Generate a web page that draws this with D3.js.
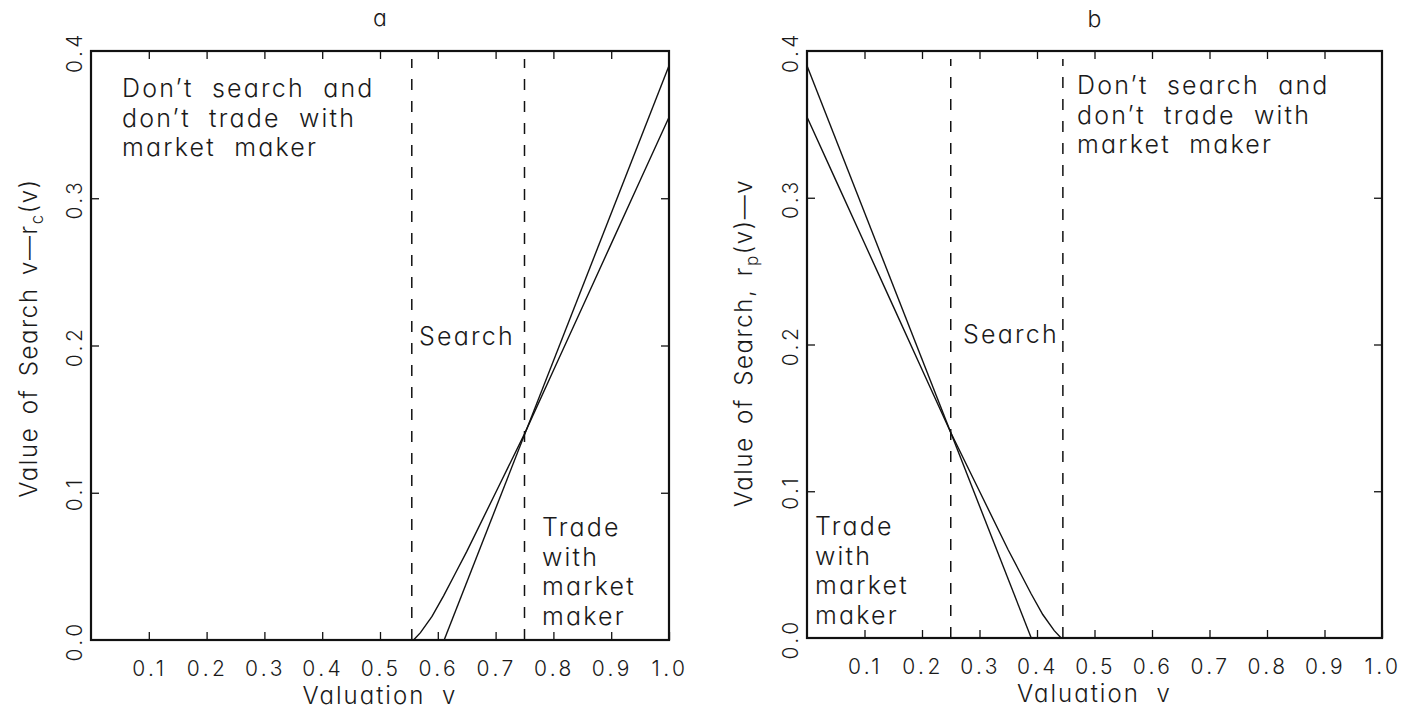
<!DOCTYPE html>
<html>
<head>
<meta charset="utf-8">
<script src="https://cdn.jsdelivr.net/npm/d3@7"></script>
<style>
  html, body { margin: 0; padding: 0; background: #fff; }
  svg { display: block; }
  text {
    font-family: Inter, "Noto Sans", "DejaVu Sans", sans-serif;
    font-weight: 300;
    font-feature-settings: "cv11";
    fill: #1a1a1a;
  }
</style>
</head>
<body>
<svg id="chart" width="1406" height="710"></svg>
<script>
// ---- data -------------------------------------------------------------
const xTickValues = [0.1, 0.2, 0.3, 0.4, 0.5, 0.6, 0.7, 0.8, 0.9, 1.0];
const xTickLabels = ["0.1", "0.2", "0.3", "0.4", "0.5", "0.6", "0.7", "0.8", "0.9", "1.0"];
const yTickValues = [0.0, 0.1, 0.2, 0.3, 0.4];
const yTickLabels = ["0.0", "0.1", "0.2", "0.3", "0.4"];

// Panel a: value of search for a buyer, v - r_c(v)
const aThresholds = [0.555, 0.75];
const aCurveV = [0.558, 0.57, 0.59, 0.61, 0.63, 0.65, 0.70, 0.75, 0.80, 0.85, 0.90, 0.95, 1.00];
const aCurveY = [0.000, 0.005, 0.016, 0.030, 0.045, 0.060, 0.100, 0.140, 0.183, 0.226, 0.269, 0.312, 0.355];
const aLineV = [0.611, 1.00];
const aLineY = [0.000, 0.390];

// Panel b: value of search for a seller, r_p(v) - v
const bThresholds = [0.25, 0.445];
const bCurveV = [0.00, 0.05, 0.10, 0.15, 0.20, 0.25, 0.30, 0.35, 0.37, 0.39, 0.41, 0.43, 0.442];
const bCurveY = [0.355, 0.312, 0.269, 0.226, 0.183, 0.140, 0.100, 0.060, 0.045, 0.030, 0.016, 0.005, 0.000];
const bLineV = [0.00, 0.39];
const bLineY = [0.390, 0.000];

// ---- layout -----------------------------------------------------------
const panels = [
  {
    title: "a", left: 91, right: 669, top: 51, bottom: 640, titleY: 26,
    thresholds: aThresholds, curveV: aCurveV, curveY: aCurveY, lineV: aLineV, lineY: aLineY,
    yLabel: [["Value of Search v—r", 0], ["c", 1], ["(v)", -1]],
    yLabelX: 37, yLabelMid: 338,
    regions: [
      { x: 122, y: 97,  lines: ["Don’t search and", "don’t trade with", "market maker"] },
      { x: 419, y: 345, lines: ["Search"] },
      { x: 542, y: 536, lines: ["Trade", "with", "market", "maker"] }
    ]
  },
  {
    title: "b", left: 807, right: 1382, top: 51, bottom: 638, titleY: 27,
    thresholds: bThresholds, curveV: bCurveV, curveY: bCurveY, lineV: bLineV, lineY: bLineY,
    yLabel: [["Value of Search, r", 0], ["p", 1], ["(v)—v", -1]],
    yLabelX: 752, yLabelMid: 343,
    regions: [
      { x: 1077, y: 94,  lines: ["Don’t search and", "don’t trade with", "market maker"] },
      { x: 963,  y: 343, lines: ["Search"] },
      { x: 815,  y: 535, lines: ["Trade", "with", "market", "maker"] }
    ]
  }
];

const svg = d3.select("#chart");
const ink = "#111";
const tickLen = 8;
const lineGap = 29.5;

panels.forEach(p => {
  const x = d3.scaleLinear().domain([0, 1]).range([p.left, p.right]);
  const y = d3.scaleLinear().domain([0, 0.4]).range([p.bottom, p.top]);
  const g = svg.append("g");

  // inward ticks on all four sides
  const bottomAxis = d3.axisBottom(x).tickValues(xTickValues).tickSize(-tickLen).tickFormat("");
  const topAxis = d3.axisTop(x).tickValues(xTickValues.slice(0, -1)).tickSize(-tickLen).tickFormat("");
  const leftAxis = d3.axisLeft(y).tickValues(yTickValues.slice(1, -1)).tickSize(-tickLen).tickFormat("");
  const rightAxis = d3.axisRight(y).tickValues(yTickValues.slice(1, -1)).tickSize(-tickLen).tickFormat("");

  [[bottomAxis, `translate(0,${p.bottom})`], [topAxis, `translate(0,${p.top})`],
   [leftAxis, `translate(${p.left},0)`], [rightAxis, `translate(${p.right},0)`]].forEach(([ax, tr]) => {
    const a = g.append("g").attr("transform", tr).call(ax);
    a.select(".domain").remove();
    a.selectAll(".tick line").attr("stroke", ink).attr("stroke-width", 1.3);
  });

  // frame
  g.append("rect")
    .attr("x", x(0)).attr("y", y(0.4))
    .attr("width", x(1) - x(0)).attr("height", y(0) - y(0.4))
    .attr("fill", "none").attr("stroke", ink).attr("stroke-width", 2.2);

  // x tick labels
  g.selectAll(".xl").data(xTickValues).enter().append("text")
    .attr("x", d => x(d) + 1).attr("y", p.bottom + 36)
    .attr("text-anchor", "middle").attr("font-size", 21).attr("letter-spacing", 3.4)
    .text((d, i) => xTickLabels[i]);

  // y tick labels (rotated)
  g.selectAll(".yl").data(yTickValues).enter().append("text")
    .attr("transform", d => `translate(${p.left - 9},${y(d) + 1}) rotate(-90)`)
    .attr("text-anchor", "middle").attr("font-size", 21).attr("letter-spacing", 3.4)
    .text((d, i) => yTickLabels[i]);

  // x axis title
  g.append("text")
    .attr("x", (x(0) + x(1)) / 2).attr("y", p.bottom + 64)
    .attr("text-anchor", "middle").attr("font-size", 24)
    .attr("letter-spacing", 2).attr("word-spacing", 8)
    .text("Valuation v");

  // y axis title with subscript
  const yt = g.append("text")
    .attr("transform", `translate(${p.yLabelX},${p.yLabelMid}) rotate(-90)`)
    .attr("text-anchor", "middle").attr("font-size", 24)
    .attr("letter-spacing", 1.6).attr("word-spacing", 4);
  p.yLabel.forEach(([s, shift], i) => {
    const ts = yt.append("tspan").text(s);
    if (shift === 1) ts.attr("dy", 6).attr("font-size", 17);
    if (shift === -1 && i > 0) ts.attr("dy", -6);
  });

  // panel title
  g.append("text")
    .attr("x", (x(0) + x(1)) / 2).attr("y", p.titleY)
    .attr("text-anchor", "middle").attr("font-size", 23)
    .text(p.title);

  // threshold lines
  g.selectAll(".thr").data(p.thresholds).enter().append("line")
    .attr("x1", d => x(d)).attr("x2", d => x(d))
    .attr("y1", y(0)).attr("y2", y(0.4) + 8)
    .attr("stroke", ink).attr("stroke-width", 1.5)
    .attr("stroke-dasharray", "11,11");

  // value-of-search curves
  const line = d3.line().x(d => x(d[0])).y(d => y(d[1]));
  g.append("path")
    .attr("d", line(d3.zip(p.curveV, p.curveY)))
    .attr("fill", "none").attr("stroke", ink).attr("stroke-width", 1.4);
  g.append("path")
    .attr("d", line(d3.zip(p.lineV, p.lineY)))
    .attr("fill", "none").attr("stroke", ink).attr("stroke-width", 1.4);

  // region labels
  p.regions.forEach(r => {
    const t = g.append("text").attr("font-size", 25)
      .attr("letter-spacing", 2.2).attr("word-spacing", 9);
    r.lines.forEach((s, i) => {
      t.append("tspan").attr("x", r.x).attr("y", r.y + i * lineGap).text(s);
    });
  });
});
</script>
</body>
</html>
